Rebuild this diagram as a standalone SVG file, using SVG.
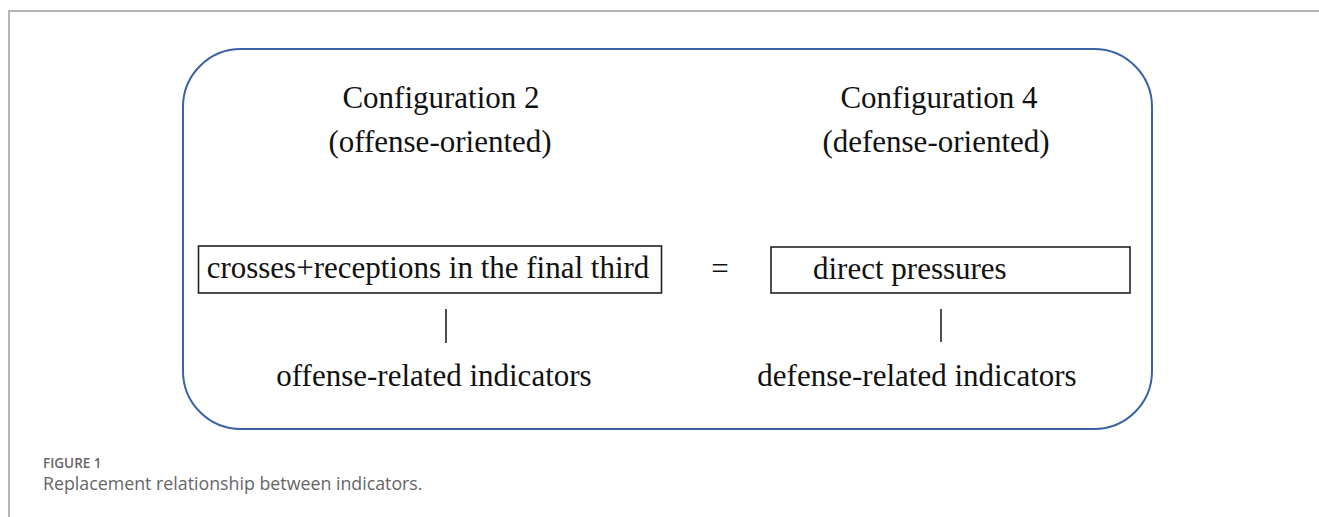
<svg xmlns="http://www.w3.org/2000/svg" width="1319" height="517" viewBox="0 0 1319 517">
<style>
.t{font-family:"Liberation Serif","Times New Roman",serif;font-size:31px;fill:#111;}
.box{fill:none;stroke:#222;stroke-width:1.6;}
.ln{stroke:#222;stroke-width:1.6;fill:none;}
.cap1{font-family:"Open Sans","Noto Sans",sans-serif;font-size:13.5px;font-weight:600;fill:#666;}
.cap2{font-family:"Open Sans","Noto Sans",sans-serif;font-size:17.8px;fill:#666;}
</style>
<rect width="1319" height="517" fill="#fff"/>
<g id="frame">
<path d="M9,517 V11 H1319" fill="none" stroke="#b5b5b5" stroke-width="2"/>
</g>
<g id="container">
<rect x="183" y="49" width="969" height="380" rx="58" ry="58" fill="none" stroke="#3B62A6" stroke-width="2"/>
</g>
<g id="config2">
<text class="t" x="441" y="108" text-anchor="middle">Configuration 2</text>
<text class="t" x="440" y="152" text-anchor="middle">(offense-oriented)</text>
</g>
<g id="config4">
<text class="t" x="939" y="108" text-anchor="middle">Configuration 4</text>
<text class="t" x="936" y="152" text-anchor="middle">(defense-oriented)</text>
</g>
<g id="box1">
<rect class="box" x="198.5" y="246" width="463" height="47"/>
<text class="t" x="428" y="278" text-anchor="middle">crosses+receptions in the final third</text>
</g>
<g id="equals">
<text class="t" x="720" y="279" text-anchor="middle">=</text>
</g>
<g id="box2">
<rect class="box" x="771" y="247" width="359" height="46"/>
<text class="t" x="813" y="279">direct pressures</text>
</g>
<g id="label-offense">
<text class="t" x="434" y="386" text-anchor="middle">offense-related indicators</text>
</g>
<g id="label-defense">
<text class="t" x="917" y="386" text-anchor="middle">defense-related indicators</text>
</g>
<g id="connectors">
<line class="ln" x1="446" y1="309" x2="446" y2="343"/>
<line class="ln" x1="941" y1="309" x2="941" y2="342"/>
</g>
<g id="caption">
<text class="cap1" x="43" y="468">FIGURE 1</text>
<text class="cap2" x="43" y="490">Replacement relationship between indicators.</text>
</g>
</svg>
